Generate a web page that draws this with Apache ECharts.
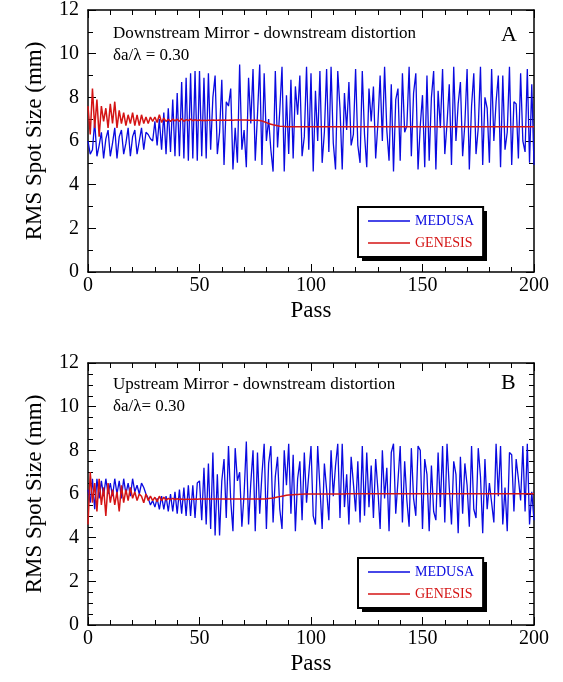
<!DOCTYPE html>
<html>
<head>
<meta charset="utf-8">
<script src="https://cdn.jsdelivr.net/npm/echarts@6/dist/echarts.min.js"></script>
<style>
html,body{margin:0;padding:0;background:#fff;}
#chart{width:563px;height:682px;}
</style>
</head>
<body>
<div id="chart"></div>
<script>
// ---------- DATA (value per pass, pass = 0..200) ----------
const medusaA = [
6.0,5.4,5.6,6.9,5.3,5.8,6.4,5.2,6.1,6.5,
5.3,5.9,6.6,5.2,6.2,6.5,5.4,5.9,6.6,5.3,
6.2,6.5,5.4,6.0,6.6,5.6,6.4,6.3,6.1,6.0,
6.9,5.8,7.0,5.6,7.3,5.4,7.5,5.5,7.9,5.3,
8.2,5.3,8.7,5.2,8.9,5.1,9.1,5.2,9.2,5.1,
9.2,5.3,8.9,5.2,9.1,5.6,8.0,9.0,5.4,6.4,
8.8,4.9,7.8,7.6,8.4,4.7,6.6,5.0,9.5,5.6,
6.5,4.8,8.9,6.8,9.3,5.1,7.2,9.5,4.9,9.1,
6.0,7.0,5.6,4.6,9.2,5.7,7.4,9.4,4.6,8.1,
5.4,8.8,5.2,8.5,7.2,9.0,5.3,6.2,9.4,5.6,
9.1,4.6,8.3,6.0,9.2,5.0,6.4,9.3,5.5,9.4,
5.9,4.7,9.2,7.5,4.7,8.2,6.5,8.7,5.8,6.3,
9.3,5.8,5.0,9.2,6.3,4.8,8.4,6.9,8.5,5.2,
6.8,9.0,6.0,9.4,6.5,5.1,8.6,4.6,7.9,8.4,
5.1,9.1,6.4,6.7,9.4,5.3,8.2,9.1,4.7,6.7,
8.1,4.8,9.0,5.1,8.0,9.2,4.7,8.3,6.6,9.3,
5.4,6.8,8.6,4.9,9.4,6.0,7.7,8.7,5.3,6.8,
9.3,4.7,7.6,9.1,5.4,6.6,9.4,4.9,8.0,7.5,
5.0,9.3,6.0,7.8,9.0,4.8,9.0,5.6,6.4,9.4,
4.9,7.8,7.7,5.2,9.1,6.0,5.5,9.3,5.0,8.6,
4.9
];
const genesisA = [
7.6,6.3,8.4,6.6,7.9,6.2,7.6,6.9,7.5,6.6,
7.7,6.8,7.8,6.6,7.4,6.8,7.3,6.7,7.2,6.8,
7.3,6.7,7.2,6.7,7.2,6.8,7.1,6.8,7.1,6.9,
7.1,6.85,7.2,6.85,7.05,6.9,7.0,6.9,7.0,6.92,
7.0,6.9,7.02,6.9,6.98,6.93,7.0,6.93,6.97,6.94,
6.96,6.94,6.95,6.94,6.95,6.95,6.96,6.95,6.95,6.96,
6.95,6.96,6.95,6.95,6.96,6.95,6.96,6.96,6.96,6.96,
6.96,6.96,6.95,6.95,6.95,6.95,6.95,6.94,6.92,6.88,
6.84,6.80,6.77,6.74,6.72,6.70,6.68,6.67,6.66,6.65,
6.65,6.65,6.65,6.65,6.65,6.65,6.65,6.65,6.65,6.65,
6.65,6.65,6.65,6.65,6.65,6.65,6.65,6.65,6.65,6.65,
6.65,6.65,6.65,6.65,6.65,6.65,6.65,6.65,6.65,6.65,
6.65,6.65,6.65,6.65,6.65,6.65,6.65,6.65,6.65,6.65,
6.65,6.65,6.65,6.65,6.65,6.65,6.65,6.65,6.65,6.65,
6.65,6.65,6.65,6.65,6.65,6.65,6.65,6.65,6.65,6.65,
6.65,6.65,6.65,6.65,6.65,6.65,6.65,6.65,6.65,6.65,
6.65,6.65,6.65,6.65,6.65,6.65,6.65,6.65,6.65,6.65,
6.65,6.65,6.65,6.65,6.65,6.65,6.65,6.65,6.65,6.65,
6.65,6.65,6.65,6.65,6.65,6.65,6.65,6.65,6.65,6.65,
6.65,6.65,6.65,6.65,6.65,6.65,6.65,6.65,6.65,6.65,
6.65
];
const medusaB = [
6.2,5.6,6.7,5.3,6.7,5.8,6.6,5.9,6.7,6.0,
6.5,5.9,6.7,6.0,6.6,5.8,6.7,6.0,6.5,5.9,
6.7,6.1,6.4,6.0,6.5,6.3,6.0,5.8,5.5,5.7,
5.4,5.8,5.3,5.9,5.3,5.9,5.2,6.0,5.2,6.1,
5.1,6.2,5.1,6.3,5.0,6.4,5.0,6.4,4.9,6.5,
6.6,4.8,7.2,4.6,7.4,4.4,7.9,4.1,6.9,4.1,
6.6,7.6,4.9,8.2,5.7,4.3,8.1,6.6,7.0,4.5,
6.0,8.4,4.6,6.5,8.0,4.3,7.9,5.1,6.9,8.3,
4.4,7.4,8.2,4.7,6.8,7.7,5.3,4.4,8.0,6.4,
8.3,5.1,7.8,4.3,6.7,7.5,4.8,7.9,5.6,6.9,
8.2,5.0,4.6,8.2,6.3,4.4,7.4,6.2,4.8,8.0,
5.9,7.3,8.3,4.9,8.3,5.4,6.9,4.6,7.7,6.5,
5.2,7.5,4.7,8.2,5.0,7.9,5.4,7.3,4.9,7.6,
6.2,4.4,8.0,5.8,7.2,4.3,7.9,8.3,5.1,6.6,
8.2,4.7,7.5,5.7,4.5,8.1,5.8,5.0,8.2,8.0,
4.4,7.6,6.9,4.3,7.3,5.2,4.8,7.9,5.4,8.2,
4.7,8.3,6.3,4.6,7.5,6.9,4.2,7.7,5.1,7.4,
6.4,4.5,8.2,5.3,4.9,8.1,6.8,4.2,7.6,5.3,
6.5,5.6,4.7,8.3,5.9,8.2,4.6,6.3,4.3,7.9,
7.8,5.2,7.6,6.7,5.7,8.2,5.2,8.3,4.6,6.1,
4.8
];
const genesisB = [
4.6,7.0,5.6,6.5,5.2,6.7,5.5,6.3,5.0,6.5,
5.6,6.2,5.5,6.1,5.2,6.4,5.6,6.2,5.7,6.3,
5.8,6.1,5.7,6.0,5.9,5.6,6.0,5.7,5.9,5.7,
5.85,5.65,5.9,5.7,5.85,5.72,5.8,5.74,5.8,5.75,
5.78,5.75,5.77,5.75,5.76,5.76,5.76,5.76,5.77,5.76,
5.77,5.77,5.77,5.77,5.77,5.77,5.77,5.77,5.77,5.77,
5.77,5.77,5.77,5.77,5.77,5.77,5.77,5.77,5.77,5.77,
5.77,5.77,5.77,5.77,5.77,5.77,5.77,5.77,5.77,5.77,
5.78,5.79,5.80,5.82,5.84,5.86,5.88,5.90,5.92,5.94,
5.95,5.96,5.97,5.98,5.98,5.99,5.99,6.00,6.00,6.00,
6.00,6.00,6.00,6.00,6.00,6.00,6.00,6.00,6.00,6.00,
6.00,6.00,6.00,6.00,6.00,6.00,6.01,6.01,6.01,6.01,
6.01,6.01,6.01,6.01,6.01,6.01,6.01,6.01,6.01,6.01,
6.01,6.01,6.01,6.01,6.01,6.01,6.01,6.01,6.01,6.01,
6.01,6.01,6.01,6.01,6.01,6.01,6.01,6.01,6.01,6.01,
6.01,6.01,6.01,6.01,6.01,6.01,6.01,6.01,6.01,6.01,
6.01,6.01,6.01,6.01,6.01,6.01,6.01,6.01,6.01,6.01,
6.01,6.01,6.01,6.01,6.01,6.01,6.01,6.01,6.01,6.01,
6.01,6.01,6.01,6.01,6.01,6.01,6.01,6.01,6.01,6.01,
6.01,6.01,6.01,6.01,6.01,6.01,6.01,6.01,6.01,6.01,
6.01
];
const seriesNames = ['MEDUSA', 'GENESIS'];
const titleA = 'Downstream Mirror - downstream distortion';
const subA = 'δa/λ = 0.30';
const titleB = 'Upstream Mirror - downstream distortion';
const subB = 'δa/λ= 0.30';
const panelA = 'A', panelB = 'B';
const xName = 'Pass', yName = 'RMS Spot Size (mm)';

// ---------- CHART ----------
const FONT = '"Liberation Serif", "Times New Roman", serif';
const BLUE = '#0a0ae0', RED = '#d41414';
const toXY = arr => arr.map((v, i) => [i, v]);

function xAxes(gi) {
  const common = {
    gridIndex: gi, type: 'value', min: 0, max: 200, interval: 50,
    axisLine: { show: true, onZero: false, lineStyle: { color: '#000', width: 1.5 } },
    axisTick: { show: true, inside: true, length: 8, lineStyle: { color: '#000', width: 1 } },
    minorTick: { show: true, splitNumber: 5, length: 5, lineStyle: { color: '#000', width: 1 } },
    splitLine: { show: false }, minorSplitLine: { show: false }
  };
  return [
    Object.assign({}, common, {
      position: 'bottom', name: xName, nameLocation: 'middle', nameGap: 27,
      nameTextStyle: { fontFamily: FONT, fontSize: 23, color: '#000' },
      axisLabel: { fontFamily: FONT, fontSize: 20, color: '#000', margin: 4 }
    }),
    Object.assign({}, common, { position: 'top', axisLabel: { show: false } })
  ];
}
function yAxes(gi, minorSplit) {
  const common = {
    gridIndex: gi, type: 'value', min: 0, max: 12, interval: 2,
    axisLine: { show: true, onZero: false, lineStyle: { color: '#000', width: 1.5 } },
    axisTick: { show: true, inside: true, length: 8, lineStyle: { color: '#000', width: 1 } },
    minorTick: { show: true, splitNumber: minorSplit, length: 5, lineStyle: { color: '#000', width: 1 } },
    splitLine: { show: false }, minorSplitLine: { show: false }
  };
  return [
    Object.assign({}, common, {
      position: 'left', name: yName, nameLocation: 'middle', nameGap: 42, nameRotate: 90,
      nameTextStyle: { fontFamily: FONT, fontSize: 23, color: '#000' },
      axisLabel: { fontFamily: FONT, fontSize: 20, color: '#000', margin: 9 }
    }),
    Object.assign({}, common, { position: 'right', axisLabel: { show: false } })
  ];
}
function legend(top) {
  return {
    orient: 'vertical', left: 358, top: top, z: 10,
    data: [
      { name: 'MEDUSA', textStyle: { color: BLUE } },
      { name: 'GENESIS', textStyle: { color: RED } }
    ],
    icon: 'rect', itemWidth: 42, itemHeight: 1.5, itemGap: 6,
    padding: [6, 9, 6, 10],
    textStyle: { fontFamily: FONT, fontSize: 14, lineHeight: 16 },
    backgroundColor: '#fff', borderColor: '#000', borderWidth: 2, borderRadius: 0,
    selectedMode: false
  };
}
function lineSeries(name, data, gi, color, width, z) {
  return {
    name: name, type: 'line', data: toXY(data),
    xAxisIndex: gi * 2, yAxisIndex: gi * 2,
    symbol: 'none', showSymbol: false, z: z,
    lineStyle: { color: color, width: width }, itemStyle: { color: color },
    animation: false
  };
}
function txt(x, y, text, size) {
  return { type: 'text', x: x, y: y, z: 100,
    style: { text: text, fontFamily: FONT, fontSize: size, fill: '#000', verticalAlign: 'middle' } };
}
function shadow(x, y) {
  return { type: 'rect', z: 9, shape: { x: x, y: y, width: 125, height: 50 },
    style: { fill: '#000' } };
}

const chart = echarts.init(document.getElementById('chart'), null, { renderer: 'canvas' });
chart.setOption({
  backgroundColor: '#fff',
  animation: false,
  grid: [
    { left: 88, right: 29, top: 10, height: 262 },
    { left: 88, right: 29, top: 363, height: 262 }
  ],
  xAxis: [].concat(xAxes(0), xAxes(1)),
  yAxis: [].concat(yAxes(0, 2), yAxes(1, 4)),
  legend: [legend(207), legend(558)],
  series: [
    lineSeries(seriesNames[0], medusaA, 0, BLUE, 1.3, 2),
    lineSeries(seriesNames[1], genesisA, 0, RED, 1.5, 3),
    lineSeries(seriesNames[0], medusaB, 1, BLUE, 1.3, 2),
    lineSeries(seriesNames[1], genesisB, 1, RED, 1.5, 3)
  ],
  graphic: [
    shadow(362, 211),
    shadow(362, 562),
    txt(113, 34, titleA, 17),
    txt(113, 56, subA, 17),
    txt(501, 35, panelA, 22),
    txt(113, 385, titleB, 17),
    txt(113, 407, subB, 17),
    txt(501, 383, panelB, 22)
  ]
});
</script>
</body>
</html>
